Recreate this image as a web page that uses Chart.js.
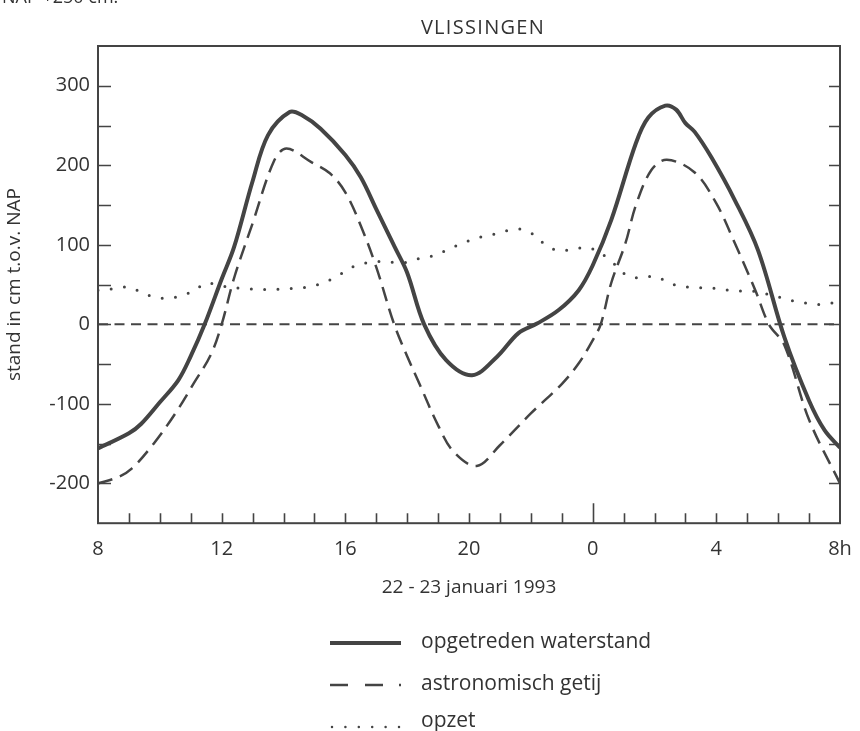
<!DOCTYPE html>
<html>
<head>
<meta charset="utf-8">
<script src="https://cdn.jsdelivr.net/npm/chart.js@4.4.0/dist/chart.umd.min.js"></script>
<style>
  body { margin: 0; background: #fff; font-family: "Open Sans", "Noto Sans", sans-serif; color: #333; }
  #wrap { position: relative; width: 860px; height: 731px; overflow: hidden; }
  #chart { position: absolute; left: 0; top: 0; }
  .txt { position: absolute; font-size: 18px; line-height: 22px; white-space: nowrap; color: #333; }
  .leg { font-size: 21px; line-height: 26px; }
  #title { left: 0; width: 966px; top: 16px; text-align: center; font-size: 20px; letter-spacing: 1.3px; }
  #legend-lines { position: absolute; left: 0; top: 0; }
</style>
</head>
<body>
<div id="wrap">
  <canvas id="chart" width="860" height="731"></canvas>
  <div class="txt" style="left:2px; top:-15px;">NAP +250 cm.</div>
  <div class="txt" id="title">VLISSINGEN</div>
  <svg id="legend-lines" width="860" height="731">
    <line x1="330" y1="643" x2="401" y2="643" stroke="#444" stroke-width="4"/>
    <line x1="330" y1="685" x2="348" y2="685" stroke="#444" stroke-width="2.5"/>
    <line x1="365" y1="685" x2="383" y2="685" stroke="#444" stroke-width="2.5"/>
    <line x1="399" y1="685" x2="401" y2="685" stroke="#444" stroke-width="2.5"/>
    <line x1="332" y1="727" x2="400" y2="727" stroke="#444" stroke-width="2.5" stroke-dasharray="0 13.4" stroke-linecap="round"/>
  </svg>
  <div class="txt leg" style="left:421px; top:627px;">opgetreden waterstand</div>
  <div class="txt leg" style="left:421px; top:669px;">astronomisch getij</div>
  <div class="txt leg" style="left:421px; top:706px;">opzet</div>
</div>
<script>
// uren sinds 22 januari 8:00
var waterHours  = [0, 1, 1.4, 2, 2.6, 3, 3.45, 4, 4.4, 5, 5.5, 6.2, 6.6, 7.2, 8, 8.5, 9, 9.6, 10, 10.55, 11.26, 12.1, 12.9, 13.6, 14.2, 14.9, 15.55, 16, 16.6, 17.4, 17.8, 18.35, 18.7, 19, 19.3, 19.84, 20.6, 21.35, 22.2, 23, 23.5, 24];
var waterValues = [-156, -137, -125, -98, -70, -40, 0, 57, 97, 180, 238, 267, 263, 246, 213, 185, 145, 97, 65, 0, -45, -64, -41, -11, 1, 18, 43, 74, 131, 228, 260, 275, 270, 253, 242, 210, 156, 93, -16, -96, -133, -155];

var tideHours  = [0, 0.65, 1.1, 1.8, 2.5, 3.1, 3.65, 4, 4.4, 5, 5.7, 6.1, 6.9, 7.5, 8, 8.5, 9, 9.58, 10, 10.4, 11, 11.5, 12.25, 13, 14, 15, 15.55, 16, 16.26, 16.6, 17.06, 17.4, 17.9, 18.4, 19.3, 20, 20.6, 21.26, 21.7, 22.2, 23, 24];
var tideValues = [-200, -192, -181, -150, -112, -74, -38, 0, 58, 127, 206, 221, 204, 190, 166, 124, 72, 0, -40, -75, -127, -160, -178, -152, -112, -75, -49, -20, 0, 52, 102, 150, 194, 207, 191, 152, 102, 43, 0, -26, -120, -200];

var surgeHours  = [0, 0.55, 1, 1.42, 1.84, 2.26, 2.7, 3.13, 3.5, 4, 4.8, 5.3, 5.7, 6.16, 6.6, 7.03, 7.45, 7.84, 8.23, 8.65, 9.06, 9.97, 10.4, 10.8, 11.26, 11.65, 12.06, 12.48, 12.9, 13.35, 13.77, 14.16, 14.5, 14.9, 15.3, 15.77, 16, 16.5, 17.2, 18.06, 18.45, 18.87, 19.3, 19.77, 20.2, 20.65, 21.13, 21.55, 21.97, 22.42, 22.87, 23.3, 23.74, 24];
var surgeValues = [43, 45, 47, 40, 34, 33, 36, 43, 52, 48, 45, 44, 44, 45, 46, 49, 55, 63, 72, 77, 79, 78, 83, 86, 93, 100, 106, 111, 114, 119, 119, 111, 99, 93, 94, 97, 95, 83, 60, 60, 52, 48, 46, 46, 44, 42, 42, 39, 35, 30, 27, 25, 27, 27];

var zeroHours  = [0, 24];
var zeroValues = [0, 0];

var hourLabels = ['8', '12', '16', '20', '0', '4', '8h'];

var lineColor = '#444444';
var textColor = '#333333';
var fontFamily = '"Open Sans", "Noto Sans", sans-serif';

function toPoints(xs, ys) {
    return xs.map(function(x, i) { return { x: x, y: ys[i] }; });
}

// kader en naar binnen gerichte streepjes
var frameTicks = {
    id: 'frameTicks',
    afterDatasetsDraw: function(chart) {
        var ctx = chart.ctx;
        var a = chart.chartArea;
        var xs = chart.scales.x;
        var ys = chart.scales.y;
        ctx.save();
        ctx.strokeStyle = lineColor;
        ctx.lineWidth = 2;
        ctx.strokeRect(a.left, a.top, a.right - a.left, a.bottom - a.top);
        ctx.beginPath();
        xs.ticks.forEach(function(t) {
            if (t.value <= 0 || t.value >= 24) return;
            var px = Math.round(xs.getPixelForValue(t.value)) + 0.5;
            var len = t.value === 16 ? 20 : 10;
            ctx.moveTo(px, a.bottom);
            ctx.lineTo(px, a.bottom - len);
        });
        ys.ticks.forEach(function(t) {
            if (t.value <= -250 || t.value >= 350) return;
            var py = Math.round(ys.getPixelForValue(t.value)) + 0.5;
            ctx.moveTo(a.left, py);
            ctx.lineTo(a.left + 13, py);
            ctx.moveTo(a.right, py);
            ctx.lineTo(a.right - 11, py);
        });
        ctx.lineWidth = 1.6;
        ctx.stroke();
        ctx.restore();
    }
};

var ctx = document.getElementById('chart');
new Chart(ctx, {
    type: 'line',
    data: {
        datasets: [
            {
                label: 'opgetreden waterstand',
                data: toPoints(waterHours, waterValues),
                borderColor: lineColor,
                borderWidth: 4,
                tension: 0.35,
                pointRadius: 0
            },
            {
                label: 'astronomisch getij',
                data: toPoints(tideHours, tideValues),
                borderColor: lineColor,
                borderWidth: 2.5,
                borderDash: [15, 8],
                tension: 0.35,
                pointRadius: 0
            },
            {
                label: 'opzet',
                data: toPoints(surgeHours, surgeValues),
                borderColor: lineColor,
                borderWidth: 3,
                borderDash: [0, 13.3],
                borderCapStyle: 'round',
                tension: 0.35,
                pointRadius: 0
            },
            {
                label: 'nul',
                data: toPoints(zeroHours, zeroValues),
                borderColor: lineColor,
                borderWidth: 2,
                borderDash: [10, 6.5],
                pointRadius: 0
            }
        ]
    },
    options: {
        responsive: false,
        animation: false,
        layout: { padding: { left: 0, right: 20, top: 46, bottom: 132 } },
        plugins: {
            legend: { display: false },
            tooltip: { enabled: false },
            title: { display: false }
        },
        scales: {
            x: {
                type: 'linear',
                min: 0,
                max: 24,
                afterFit: function(scale) { scale.paddingLeft = 0; scale.paddingRight = 0; },
                grid: { display: false },
                border: { display: false },
                ticks: {
                    stepSize: 1,
                    autoSkip: false,
                    maxRotation: 0,
                    padding: 6,
                    color: textColor,
                    font: { family: fontFamily, size: 20 },
                    callback: function(v) {
                        return v % 4 === 0 ? hourLabels[v / 4] : '';
                    }
                },
                title: {
                    display: true,
                    text: '22 - 23 januari 1993',
                    color: textColor,
                    font: { family: fontFamily, size: 19 },
                    padding: { top: 9, bottom: 0 }
                }
            },
            y: {
                min: -250,
                max: 350,
                afterFit: function(scale) { scale.width = 98; },
                grid: { display: false },
                border: { display: false },
                ticks: {
                    stepSize: 50,
                    padding: 0,
                    color: textColor,
                    font: { family: fontFamily, size: 20 },
                    callback: function(v) {
                        return v % 100 === 0 ? String(v) : '';
                    }
                },
                title: {
                    display: true,
                    text: 'stand in cm t.o.v. NAP',
                    color: textColor,
                    font: { family: fontFamily, size: 19 },
                    padding: { top: 3, bottom: 0 }
                }
            }
        }
    },
    plugins: [frameTicks]
});
</script>
</body>
</html>
